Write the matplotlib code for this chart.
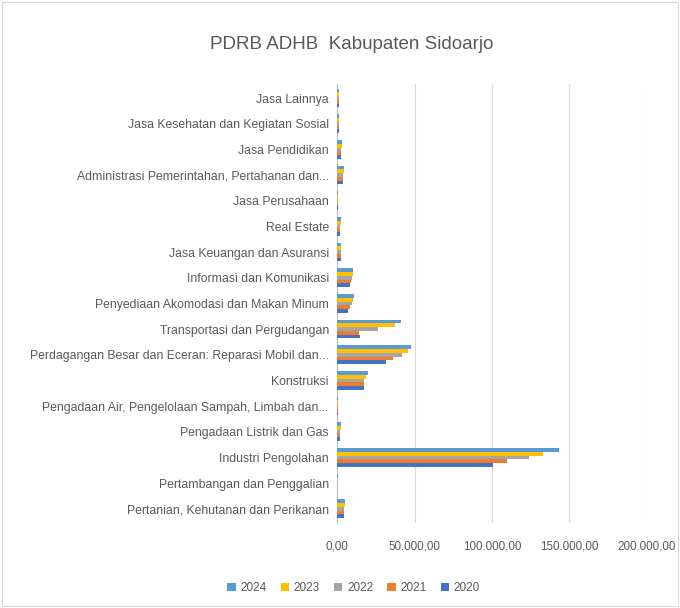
import matplotlib
matplotlib.use("Agg")
import matplotlib.pyplot as plt
import numpy as np
from matplotlib.ticker import FuncFormatter

plt.rcParams['font.family'] = ['Liberation Sans', 'DejaVu Sans']

categories = [
    "Pertanian, Kehutanan dan Perikanan",
    "Pertambangan dan Penggalian",
    "Industri Pengolahan",
    "Pengadaan Listrik dan Gas",
    "Pengadaan Air, Pengelolaan Sampah, Limbah dan...",
    "Konstruksi",
    "Perdagangan Besar dan Eceran: Reparasi Mobil dan...",
    "Transportasi dan Pergudangan",
    "Penyediaan Akomodasi dan Makan Minum",
    "Informasi dan Komunikasi",
    "Jasa Keuangan dan Asuransi",
    "Real Estate",
    "Jasa Perusahaan",
    "Administrasi Pemerintahan, Pertahanan dan...",
    "Jasa Pendidikan",
    "Jasa Kesehatan dan Kegiatan Sosial",
    "Jasa Lainnya",
]

years = ["2024", "2023", "2022", "2021", "2020"]
v2024 = [5000, 150, 143600, 2200, 300, 20000, 47500, 41000, 11000, 10000, 2600, 2200, 600, 4300, 3000, 1000, 1000]
v2023 = [4800, 140, 132700, 2100, 280, 18700, 46000, 37400, 10200, 10000, 2500, 2100, 550, 4200, 2900, 950, 950]
v2022 = [4600, 130, 124000, 2000, 260, 17400, 42000, 26400, 9500, 9500, 2400, 2000, 500, 4000, 2700, 900, 900]
v2021 = [4400, 120, 109500, 1900, 250, 17000, 36000, 14000, 8500, 9000, 2300, 1900, 480, 3900, 2600, 850, 850]
v2020 = [4200, 110, 100500, 1800, 240, 17000, 31500, 14500, 7000, 8000, 2200, 1800, 450, 3800, 2500, 800, 800]
series = [v2024, v2023, v2022, v2021, v2020]
colors = ["#5B9BD5", "#FFC000", "#A5A5A5", "#ED7D31", "#4472C4"]

fig = plt.figure(figsize=(6.8, 6.08), dpi=100)
ax = fig.add_axes([0.496, 0.14, 0.455, 0.722])

y = np.arange(len(categories))
h = 0.145
n = len(series)
for i, (vals, c, yr) in enumerate(zip(series, colors, years)):
    offset = (n - 1) / 2 * h - i * h
    ax.barh(y + offset, vals, height=h, color=c, label=yr, zorder=3)

ax.set_xlim(0, 200000)
ax.set_ylim(-0.55, len(categories) - 0.45)
ax.set_xticks([0, 50000, 100000, 150000, 200000])
ax.xaxis.set_major_formatter(FuncFormatter(
    lambda v, p: "{:,.2f}".format(v).replace(",", "X").replace(".", ",").replace("X", ".")))
ax.set_yticks(y)
ax.set_yticklabels(categories, fontsize=8.8, color="#595959")
ax.tick_params(axis='x', labelsize=8.4, colors="#595959", length=0, pad=13)
ax.tick_params(axis='y', length=0, pad=6)
ax.grid(axis='x', color="#D9D9D9", linewidth=0.8, zorder=0)
for s in ["top", "right", "bottom"]:
    ax.spines[s].set_visible(False)
ax.spines["left"].set_color("#BFBFBF")
ax.spines["left"].set_linewidth(0.8)

fig.text(0.517, 0.926, "PDRB ADHB  Kabupaten Sidoarjo", ha="center", va="center",
         fontsize=13.5, color="#595959")

handles, labels = ax.get_legend_handles_labels()
leg = fig.legend(handles, labels, loc="center", bbox_to_anchor=(0.52, 0.033), ncol=5,
                 frameon=False, fontsize=8.5, handlelength=0.7, handleheight=0.7,
                 columnspacing=1.2, handletextpad=0.4)
for t in leg.get_texts():
    t.set_color("#595959")

border = plt.Rectangle((0.003, 0.003), 0.994, 0.994, transform=fig.transFigure,
                       fill=False, edgecolor="#D9D9D9", linewidth=0.8)
fig.patches.append(border)

fig.savefig("out.png", dpi=100)
